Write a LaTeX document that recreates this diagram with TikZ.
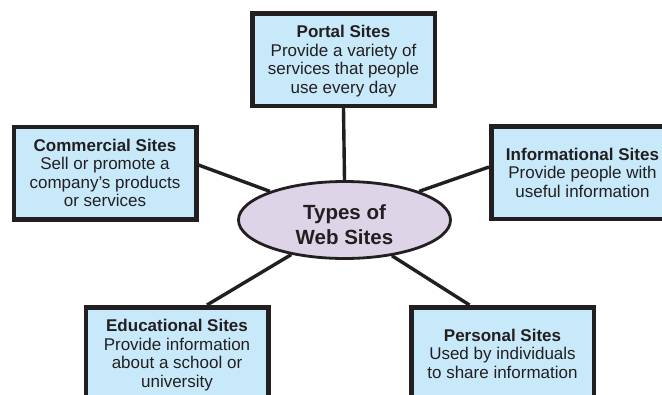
\documentclass[tikz,border=0pt]{standalone}
\usepackage{fontspec}
\setmainfont{Liberation Sans}
\usetikzlibrary{shapes.geometric}
\definecolor{ink}{HTML}{231F20}
\definecolor{boxblue}{HTML}{C8E9FA}
\definecolor{hubfill}{HTML}{DDD4E7}
\begin{document}
\begin{tikzpicture}[x=1pt,y=-1pt,
  sitebox/.style={draw=ink, line width=4.5pt, fill=boxblue, minimum width=182.5pt, minimum height=92.5pt,
    inner sep=0pt, align=center, text=ink, font=\fontsize{17}{18.5}\selectfont, text depth=0pt},
  hub/.style={ellipse, draw=ink, line width=2.8pt, fill=hubfill, minimum width=212pt,
    minimum height=77pt, inner sep=0pt},
  hubtext/.style={align=center, text=ink, font=\bfseries\fontsize{20.5}{25}\selectfont,
    inner sep=0pt, text depth=0pt},
  link/.style={draw=ink, line width=3.4pt}]
\path[use as bounding box] (0,0) rectangle (662,394);
\clip (0,0) rectangle (662,394);
\fill[white] (0,0) rectangle (662,394);

\node[sitebox] (portal) at (343.5,59.5) {\textbf{Portal Sites}\\Provide a variety of\\services that people\\use every day};
\node[sitebox] (com) at (105,173) {\textbf{Commercial Sites}\\Sell or promote a\\company’s products\\or services};
\node[sitebox] (info) at (582.5,172.5) {\textbf{Informational Sites}\\Provide people with\\useful information};
\node[sitebox] (edu) at (177,353.5) {\textbf{Educational Sites}\\Provide information\\about a school or\\university};
\node[sitebox] (per) at (502.5,353.5) {\textbf{Personal Sites}\\Used by individuals\\to share information};

\node[hub] (web) at (344.5,220) {};
\node[hubtext] (webtext) at (344.5,225) {Types of\\Web Sites};

\draw[link] (portal.south) -- (web.north);
\draw[link] ([yshift=8pt]com.east) -- (web.159.6);
\draw[link] ([yshift=5.5pt]info.west) -- (web.21);
\draw[link] ([xshift=30pt]edu.north) -- (web.213.5);
\draw[link] ([xshift=-33pt]per.north) -- (web.323);
\end{tikzpicture}
\end{document}
